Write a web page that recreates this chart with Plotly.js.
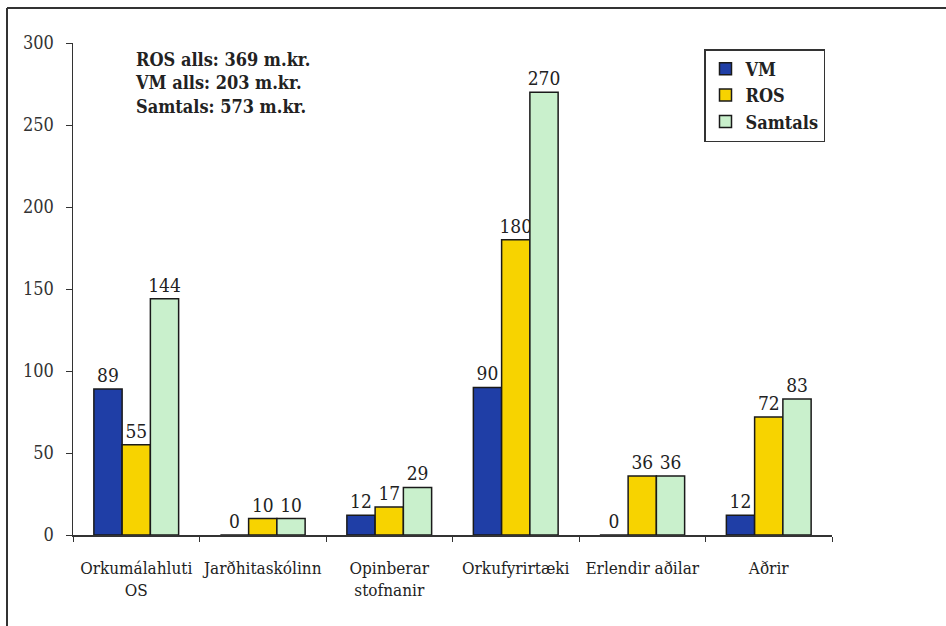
<!DOCTYPE html>
<html>
<head>
<meta charset="utf-8">
<script src="https://cdn.plot.ly/plotly-3.0.1.min.js"></script>
<style>html,body{margin:0;padding:0;background:#fff;}#chart{width:946px;height:626px;}</style>
</head>
<body>
<div id="chart"></div>
<script>
const categories = ["Orkumálahluti<br>OS", "Jarðhitaskólinn", "Opinberar<br>stofnanir", "Orkufyrirtæki", "Erlendir aðilar", "Aðrir"];
const vmValues = [89, 0, 12, 90, 0, 12];
const rosValues = [55, 10, 17, 180, 36, 72];
const samtalsValues = [144, 10, 29, 270, 36, 83];
const seriesNames = ["VM", "ROS", "Samtals"];
const yTicks = [0, 50, 100, 150, 200, 250, 300];
const noteLines = ["ROS alls: 369 m.kr.", "VM alls: 203 m.kr.", "Samtals: 573 m.kr."];

const W = 946, H = 626;
const M = {l: 73, r: 114, t: 43, b: 91};
const pw = W - M.l - M.r, ph = H - M.t - M.b;
const px = x => (x - M.l) / pw;
const py = y => (H - M.b - y) / ph;

const serif = "DejaVu Serif Condensed, DejaVu Serif";
const colors = ["#1f3ea6", "#f7d300", "#c9f0cc"];
const series = [vmValues, rosValues, samtalsValues];

const traces = series.map((vals, i) => ({
  type: "bar",
  name: seriesNames[i],
  x: categories,
  y: vals,
  marker: {color: colors[i], line: {color: "#1a1a1a", width: 1.5}},
  text: vals.map(String),
  textposition: "outside",
  constraintext: "none",
  cliponaxis: false,
  textfont: {family: serif, size: 19, color: "#222"},
  hoverinfo: "skip"
}));

const layout = {
  width: W, height: H,
  margin: M,
  paper_bgcolor: "#fff",
  plot_bgcolor: "#fff",
  barmode: "group",
  bargap: 0.33,
  bargroupgap: 0,
  showlegend: true,
  font: {family: serif, color: "#222", size: 17},
  legend: {
    x: px(704), y: py(49), xanchor: "left", yanchor: "top",
    bgcolor: "#fff", bordercolor: "#333", borderwidth: 1.5,
    font: {family: serif, size: 18, color: "#222", weight: "bold"},
    traceorder: "normal",
    itemwidth: 30
  },
  xaxis: {
    showline: true, linecolor: "#333", linewidth: 1.5,
    ticks: "outside", tickson: "boundaries", ticklen: 5, tickcolor: "#333",
    tickfont: {family: serif, size: 17, color: "#222"},
    tickangle: 0,
    ticklabelstandoff: 17,
    showgrid: false, zeroline: false
  },
  yaxis: {
    range: [0, 300],
    tickvals: yTicks,
    showline: true, linecolor: "#333", linewidth: 1.5,
    ticks: "outside", ticklen: 6, tickcolor: "#333",
    tickfont: {family: serif, size: 18, color: "#333"},
    ticklabelstandoff: 8,
    showgrid: false, zeroline: false
  },
  annotations: [{
    xref: "paper", yref: "paper",
    x: px(133), y: py(47), xanchor: "left", yanchor: "top",
    text: noteLines.map(s => "<b>" + s + "</b>").join("<br>"),
    showarrow: false, align: "left",
    font: {family: serif, size: 18, color: "#222"}
  }],
  shapes: [
    {type: "line", xref: "paper", yref: "paper", x0: px(7), x1: px(946), y0: py(8), y1: py(8), line: {color: "#333", width: 2}},
    {type: "line", xref: "paper", yref: "paper", x0: px(7), x1: px(7), y0: py(8), y1: py(626), line: {color: "#333", width: 2}}
  ]
};

Plotly.newPlot("chart", traces, layout, {displayModeBar: false, staticPlot: true});
</script>
</body>
</html>
